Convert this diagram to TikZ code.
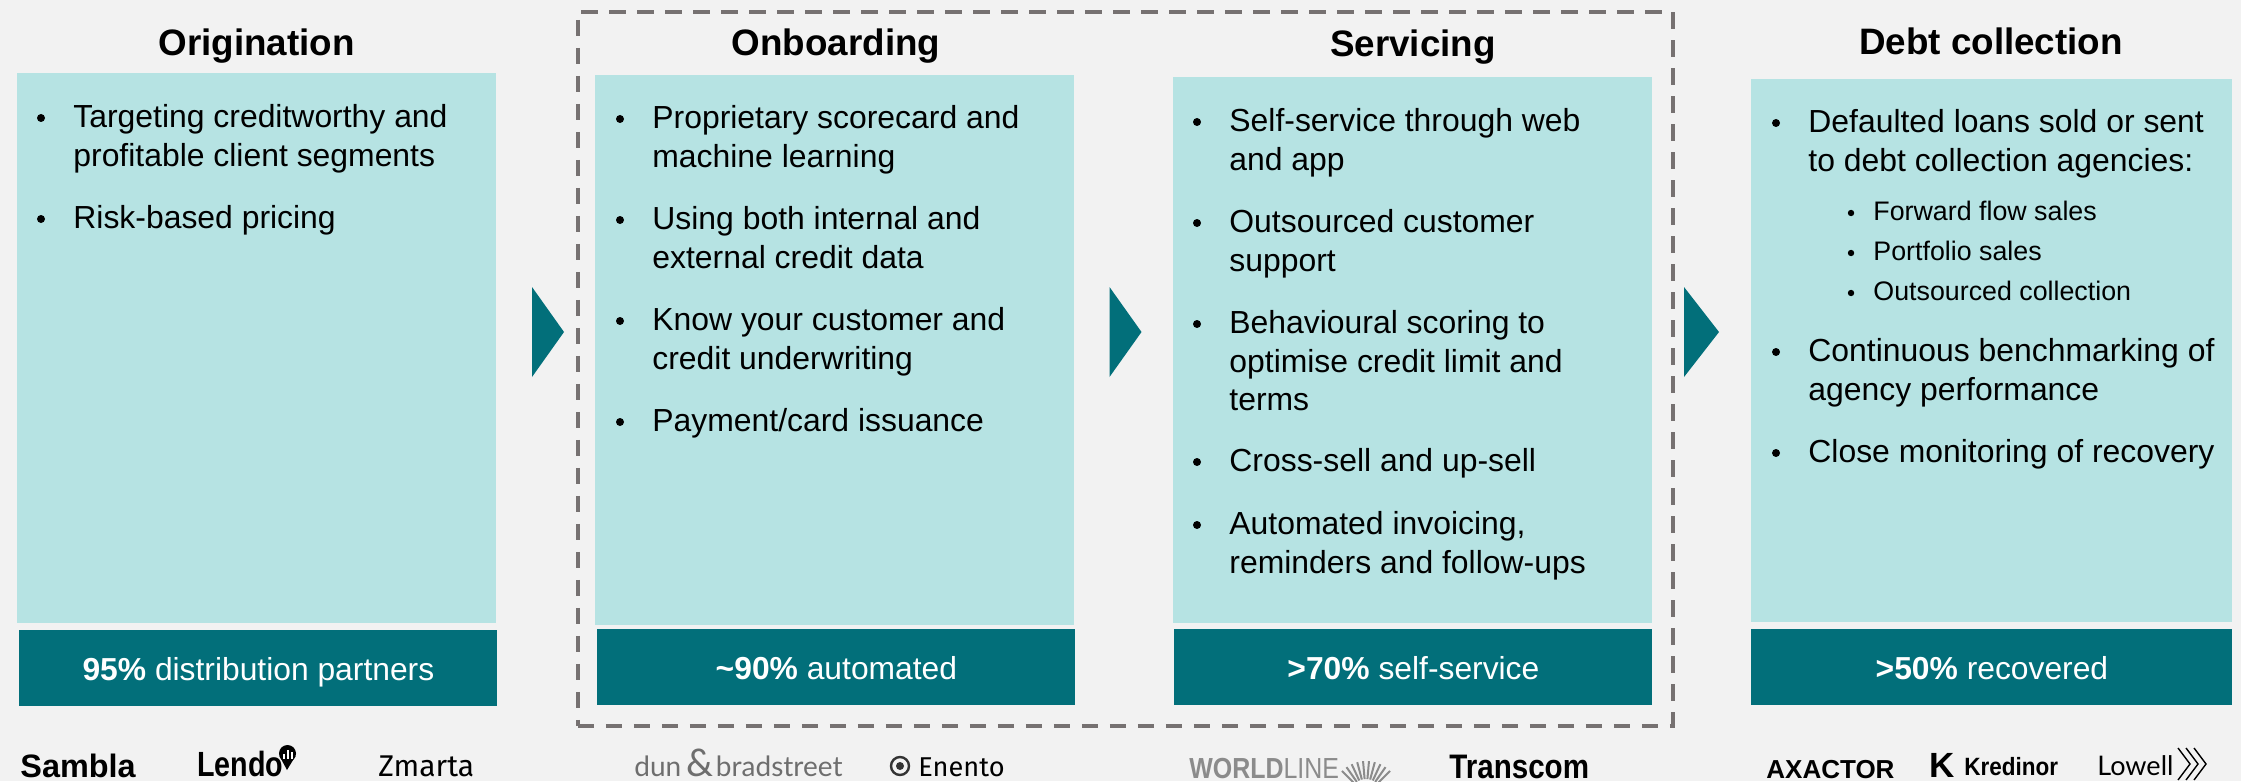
\documentclass[tikz,border=0pt]{standalone}
\usepackage{fontspec}
\setmainfont{Liberation Sans}
\newfontfamily\firafont{Fira Sans}
\newfontfamily\slimfont{Lato}
\usetikzlibrary{positioning}

\definecolor{pagefill}{HTML}{F2F2F2}
\definecolor{boxfill}{HTML}{B6E3E3}
\definecolor{bandfill}{HTML}{026F7A}
\definecolor{framegray}{HTML}{767171}
\definecolor{logogray}{HTML}{6E6E6E}

\tikzset{
	phasebox/.style={fill=boxfill, anchor=north west, inner sep=0pt, minimum width=239.5pt, minimum height=275pt},
	resultband/.style={fill=bandfill, text=white, anchor=north west, inner sep=0pt, text height=12pt, text depth=0pt, minimum width=239pt, minimum height=38pt, font=\fontsize{15.9}{18}\selectfont},
	phasetitle/.style={font=\fontsize{18.4}{21}\selectfont\bfseries, inner sep=0pt, text height=13.5pt, text depth=0pt},
	itemtext/.style={anchor=north west, inner sep=0pt, align=left, font=\fontsize{15.95}{19.25}\selectfont},
	subtext/.style={anchor=north west, inner sep=0pt, align=left, font=\fontsize{13.4}{20}\selectfont},
	itemdot/.style={circle, fill=black, inner sep=0pt, minimum size=4pt},
	subdot/.style={circle, fill=black, inner sep=0pt, minimum size=3.2pt},
	stepmark/.style={fill=bandfill},
	groupframe/.style={draw=framegray, line width=1.9pt, dash pattern=on 8.25pt off 5.75pt, inner sep=0pt, anchor=north west, minimum width=547.5pt, minimum height=357pt},
	logotext/.style={anchor=base west, inner sep=0pt},
}
\newcommand{\itemline}[4]{% name, x, y, text
	\node[itemtext] (#1) at (#2,#3) {#4};
	\node[itemdot] (#1dot) at ([xshift=-16pt,yshift=-7pt]#1.north west) {};
}
\newcommand{\subline}[4]{%
	\node[subtext] (#1) at (#2,#3) {#4};
	\node[subdot] (#1dot) at ([xshift=-11pt,yshift=-6pt]#1.north west) {};
}

\begin{document}
\begin{tikzpicture}[x=0.5pt, y=-0.5pt]
	\useasboundingbox[fill=pagefill] (0,0) rectangle (2241,781);

	\node [groupframe] (group) at (576,10) {};

	% boxes
	\node [phasebox] (orig) at (17,73) {};
	\node [phasebox] (onb) at (595,75) {};
	\node [phasebox, minimum height=273pt] (serv) at (1173,77) {};
	\node [phasebox, minimum width=240.5pt, minimum height=271.5pt] (debt) at (1751,79) {};

	% bands
	\node [resultband] (origband) at (19,630) {\textbf{95\%} distribution partners};
	\node [resultband] (onbband) at (597,629) {\textbf{\textasciitilde90\%} automated};
	\node [resultband] (servband) at (1174,629) {\textbf{>70\%} self-service};
	\node [resultband, minimum width=240.5pt] (debtband) at (1751,629) {\textbf{>50\%} recovered};

	% titles
	\node [phasetitle] (origtitle) at (256.5,42) {Origination};
	\node [phasetitle] (onbtitle) at (836,42) {Onboarding};
	\node [phasetitle] (servtitle) at (1413,43) {Servicing};
	\node [phasetitle] (debttitle) at (1991,41) {Debt collection};

	% arrows
	\foreach \xa/\wd in {532/32, 1109.5/32, 1684/35}
		\fill [stepmark] (\xa,287) -- (\xa+\wd,332) -- (\xa,377) -- cycle;

	% bullets
	\itemline{orig1}{73}{104}{Targeting creditworthy and\\profitable client segments}
	\itemline{orig2}{73}{205}{Risk-based pricing}

	\itemline{onb1}{652}{105}{Proprietary scorecard and\\machine learning}
	\itemline{onb2}{652}{206}{Using both internal and\\external credit data}
	\itemline{onb3}{652}{307}{Know your customer and\\credit underwriting}
	\itemline{onb4}{652}{408}{Payment/card issuance}

	\itemline{serv1}{1229}{108}{Self-service through web\\and app}
	\itemline{serv2}{1229}{209}{Outsourced customer\\support}
	\itemline{serv3}{1229}{310}{Behavioural scoring to\\optimise credit limit and\\terms}
	\itemline{serv4}{1229}{448}{Cross-sell and up-sell}
	\itemline{serv5}{1229}{511}{Automated invoicing,\\reminders and follow-ups}

	\itemline{debt1}{1808}{109}{Defaulted loans sold or sent\\to debt collection agencies:}
	\subline{debt1a}{1873}{201}{Forward flow sales}
	\subline{debt1b}{1873}{241}{Portfolio sales}
	\subline{debt1c}{1873}{281}{Outsourced collection}
	\itemline{debt2}{1808}{338}{Continuous benchmarking of\\agency performance}
	\itemline{debt3}{1808}{439}{Close monitoring of recovery}

	% logos
	\node [logotext, font=\fontsize{16.2}{17}\selectfont\bfseries] (sambla) at (20,777) {Sambla};
	\node [logotext, font=\fontsize{17.5}{18}\selectfont\bfseries, xscale=0.82, transform shape] (lendo) at (197,776) {Lendo};
	\node [circle, fill=black, inner sep=0pt, minimum size=8.5pt] (lendopin) at (287.5,753.5) {};
	\fill (279.5,756) -- (287,770) -- (295.5,756) -- cycle;
	\foreach \xa/\ya in {284/754, 288/750, 292/752}
		\draw [white, line width=0.7pt] (\xa,\ya) -- (\xa,759);
	\node [logotext, font=\firafont\fontsize{15}{15}\selectfont] (zmarta) at (378,776) {Zmarta};
	\node [logotext, font=\slimfont\fontsize{14}{14}\selectfont, text=logogray] (dun) at (634,776) {dun};
	\node [logotext, font=\slimfont\fontsize{19}{19}\selectfont, text=logogray, right=2pt of dun.base east, anchor=base west] (dunamp) {\&};
	\node [logotext, font=\slimfont\fontsize{14}{14}\selectfont, text=logogray, right=1pt of dunamp.base east, anchor=base west] (brad) {bradstreet};
	\node [circle, draw=black!80, line width=1.2pt, inner sep=0pt, minimum size=9pt] (enentoring) at (900,766) {};
	\node [circle, fill=black!80, inner sep=0pt, minimum size=4pt] (enentodot) at (enentoring) {};
	\node [logotext, font=\firafont\fontsize{13.6}{15}\selectfont] (enento) at (918,776) {Enento};
	\node [logotext, font=\fontsize{14.5}{15}\selectfont, text=logogray!80, xscale=0.86, transform shape] (worldline) at (1189,778) {\textbf{WORLD}LINE};
	\foreach \ang in {45,55,...,135}
		\draw [logogray!80, line width=1pt] (1366,795) ++(\ang:8pt) -- ++(\ang:9pt);
	\node [logotext, font=\fontsize{17}{17}\selectfont\bfseries, xscale=0.87, transform shape] (transcom) at (1449,778) {Transcom};
	\node [logotext, font=\fontsize{13}{14}\selectfont\bfseries] (axactor) at (1766,778) {AXACTOR};
	\node [logotext, font=\fontsize{17.5}{18}\selectfont\bfseries] (kredk) at (1929,777) {K};
	\node [logotext, font=\fontsize{12.5}{14}\selectfont\bfseries, xscale=0.9, transform shape] (kred) at (1964,775) {Kredinor};
	\node [logotext, font=\slimfont\fontsize{13.5}{14}\selectfont] (lowell) at (2097,775) {Lowell};
	\foreach \xa in {2178,2186,2194}
		\draw [line width=0.7pt] (\xa,748) -- (\xa+12,764) -- (\xa,780);
\end{tikzpicture}
\end{document}
